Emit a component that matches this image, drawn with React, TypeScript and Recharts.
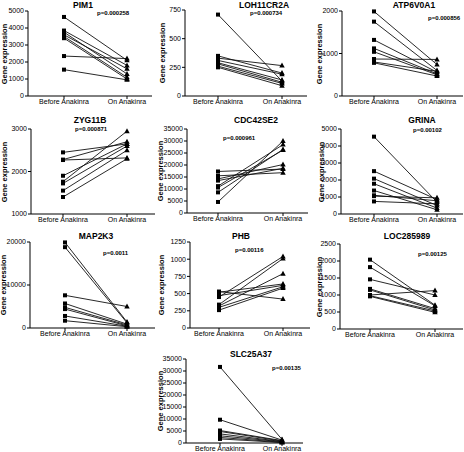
import React from "react";
import { LineChart, Line, XAxis, YAxis } from "recharts";

const CATEGORIES = ["Before Anakinra", "On Anakinra"];

const GENES = ["PIM1", "LOH11CR2A", "ATP6V0A1", "ZYG11B", "CDC42SE2", "GRINA", "MAP2K3", "PHB", "LOC285989", "SLC25A37"];
const P_VALUES = ["p=0.000258", "p=0.000734", "p=0.000856", "p=0.000871", "p=0.000961", "p=0.00102", "p=0.0011", "p=0.00116", "p=0.00125", "p=0.00135"];

// one value per patient, before and on treatment
const pim1Before = [4650, 3850, 3750, 3600, 3500, 3400, 2350, 1550];
const pim1On = [2100, 1800, 1300, 1600, 1100, 1000, 2200, 950];
const lohBefore = [710, 350, 330, 310, 290, 280, 260, 250];
const lohOn = [130, 200, 265, 190, 140, 120, 110, 90];
const atpBefore = [1990, 1750, 1320, 1120, 1040, 870, 800, 780];
const atpOn = [740, 600, 560, 520, 500, 860, 580, 470];
const zygBefore = [2450, 2280, 2270, 1900, 1760, 1720, 1550, 1400];
const zygOn = [2650, 2700, 2320, 2650, 2950, 2600, 2500, 2300];
const cdcBefore = [17300, 15500, 14200, 13500, 11200, 10600, 8600, 4600];
const cdcOn = [18300, 16800, 20200, 18600, 28500, 26200, 26500, 30000];
const grinaBefore = [4550, 2520, 2080, 1780, 1380, 1100, 1050, 740];
const grinaOn = [700, 850, 500, 350, 250, 780, 950, 600];
const mapBefore = [19900, 18800, 7600, 5700, 4800, 4400, 2800, 1700];
const mapOn = [1400, 1200, 5000, 900, 700, 500, 400, 300];
const phbBefore = [530, 520, 470, 450, 340, 320, 300, 260];
const phbOn = [420, 640, 620, 1040, 1010, 790, 600, 580];
const locBefore = [2040, 1820, 1460, 1180, 1150, 1000, 980, 960];
const locOn = [700, 680, 1000, 600, 560, 1130, 530, 490];
const slcBefore = [31700, 9700, 5200, 4800, 3800, 3000, 2300, 1700];
const slcOn = [1500, 1200, 1000, 800, 600, 500, 300, 200];

const BEFORE = [pim1Before, lohBefore, atpBefore, zygBefore, cdcBefore, grinaBefore, mapBefore, phbBefore, locBefore, slcBefore];
const ON = [pim1On, lohOn, atpOn, zygOn, cdcOn, grinaOn, mapOn, phbOn, locOn, slcOn];

const Y_TICKS = [
  [0, 1000, 2000, 3000, 4000, 5000],
  [0, 250, 500, 750],
  [0, 1000, 2000],
  [1000, 2000, 3000],
  [0, 5000, 10000, 15000, 20000, 25000, 30000, 35000],
  [0, 1000, 2000, 3000, 4000, 5000],
  [0, 10000, 20000],
  [0, 250, 500, 750, 1000, 1250],
  [0, 500, 1000, 1500, 2000, 2500],
  [0, 5000, 10000, 15000, 20000, 25000, 30000, 35000],
];

// page positions of each panel
const LAYOUT = [
  { x0: 28, yTop: 11, yBot: 96, xEnd: 152, bx: 64, ox: 127, titleX: 83, titleY: 5, pX: 97, pY: 13, labelX: 5 },
  { x0: 185, yTop: 10, yBot: 96, xEnd: 307, bx: 218, ox: 282, titleX: 264, titleY: 5, pX: 250, pY: 13, labelX: 163 },
  { x0: 342, yTop: 11, yBot: 96, xEnd: 463, bx: 374, ox: 437, titleX: 414, titleY: 5, pX: 428, pY: 18, labelX: 320 },
  { x0: 31, yTop: 129, yBot: 214, xEnd: 155, bx: 63, ox: 127, titleX: 90, titleY: 120, pX: 75, pY: 129, labelX: 5 },
  { x0: 187, yTop: 129, yBot: 213, xEnd: 308, bx: 218, ox: 283, titleX: 256, titleY: 120, pX: 223, pY: 138, labelX: 161 },
  { x0: 341, yTop: 129, yBot: 214, xEnd: 463, bx: 374, ox: 437, titleX: 422, titleY: 120, pX: 413, pY: 130, labelX: 322 },
  { x0: 30, yTop: 242, yBot: 328, xEnd: 155, bx: 65, ox: 127, titleX: 96, titleY: 236, pX: 103, pY: 253, labelX: 4 },
  { x0: 190, yTop: 242, yBot: 328, xEnd: 310, bx: 219, ox: 283, titleX: 241, titleY: 236, pX: 235, pY: 250, labelX: 162 },
  { x0: 340, yTop: 244, yBot: 329, xEnd: 463, bx: 370, ox: 435, titleX: 407, titleY: 236, pX: 418, pY: 254, labelX: 320 },
  { x0: 186, yTop: 359, yBot: 443, xEnd: 303, bx: 220, ox: 282, titleX: 251, titleY: 354, pX: 272, pY: 368, labelX: 161 },
];

const FONT = "'Liberation Sans', Arial, sans-serif";
const YW = 34;
const MT = 6;
const XH = 16;

const renderDot = (props: any) => {
  const { cx, cy, index, dataKey } = props;
  const key = `${dataKey}-${index}`;
  if (cx == null || cy == null) return <g key={key} />;
  if (index === 0) return <rect key={key} x={cx - 2} y={cy - 2} width={4} height={4} fill="#000" />;
  return <path key={key} d={`M${cx},${cy - 3}L${cx + 2.7},${cy + 2}L${cx - 2.7},${cy + 2}Z`} fill="#000" />;
};

function Panel({ i }: { i: number }) {
  const L = LAYOUT[i];
  const before = BEFORE[i];
  const on = ON[i];
  const ticks = Y_TICKS[i];
  const rows = CATEGORIES.map((c, ci) => {
    const row: any = { name: c };
    before.forEach((_, k) => {
      row["p" + k] = ci === 0 ? before[k] : on[k];
    });
    return row;
  });
  const width = YW + (L.xEnd - L.x0) + 1;
  const height = MT + (L.yBot - L.yTop) + XH;
  return (
    <>
      <div style={{ position: "absolute", left: L.x0 - YW, top: L.yTop - MT }}>
        <LineChart width={width} height={height} data={rows} margin={{ top: MT, right: 1, left: 0, bottom: 0 }}>
          <XAxis
            dataKey="name"
            height={XH}
            padding={{ left: L.bx - L.x0, right: L.xEnd - L.ox }}
            tick={{ fontSize: 7, fill: "#000", fontFamily: FONT }}
            tickSize={3}
            tickMargin={0}
            axisLine={{ stroke: "#000", strokeWidth: 1 }}
            tickLine={{ stroke: "#000" }}
            interval={0}
          />
          <YAxis
            width={YW}
            type="number"
            domain={[ticks[0], ticks[ticks.length - 1]]}
            ticks={ticks}
            interval={0}
            tick={{ fontSize: 7, fill: "#000", fontFamily: FONT }}
            tickSize={3}
            tickMargin={1}
            axisLine={{ stroke: "#000", strokeWidth: 1 }}
            tickLine={{ stroke: "#000" }}
          />
          {before.map((_, k) => (
            <Line
              key={k}
              dataKey={"p" + k}
              stroke="#111"
              strokeWidth={0.9}
              dot={renderDot}
              activeDot={false}
              isAnimationActive={false}
            />
          ))}
        </LineChart>
      </div>
      <div
        style={{
          position: "absolute",
          left: L.titleX - 40,
          top: L.titleY - 6,
          width: 80,
          textAlign: "center",
          fontFamily: FONT,
          fontWeight: "bold",
          fontSize: 8.5,
          lineHeight: "12px",
        }}
      >
        {GENES[i]}
      </div>
      <div
        style={{
          position: "absolute",
          left: L.pX,
          top: L.pY - 5,
          fontFamily: FONT,
          fontWeight: "bold",
          fontSize: 6,
          lineHeight: "10px",
          whiteSpace: "nowrap",
        }}
      >
        {P_VALUES[i]}
      </div>
      <div
        style={{
          position: "absolute",
          left: L.labelX - 40,
          top: (L.yTop + L.yBot) / 2 - 5,
          width: 80,
          textAlign: "center",
          transform: "rotate(-90deg)",
          fontFamily: FONT,
          fontWeight: "bold",
          fontSize: 7.5,
          lineHeight: "10px",
          whiteSpace: "nowrap",
        }}
      >
        Gene expression
      </div>
    </>
  );
}

export default function App() {
  return (
    <div style={{ position: "absolute", left: 0, top: 0, width: 464, height: 452, background: "#fff", overflow: "hidden" }}>
      {GENES.map((_, i) => (
        <Panel key={i} i={i} />
      ))}
    </div>
  );
}
